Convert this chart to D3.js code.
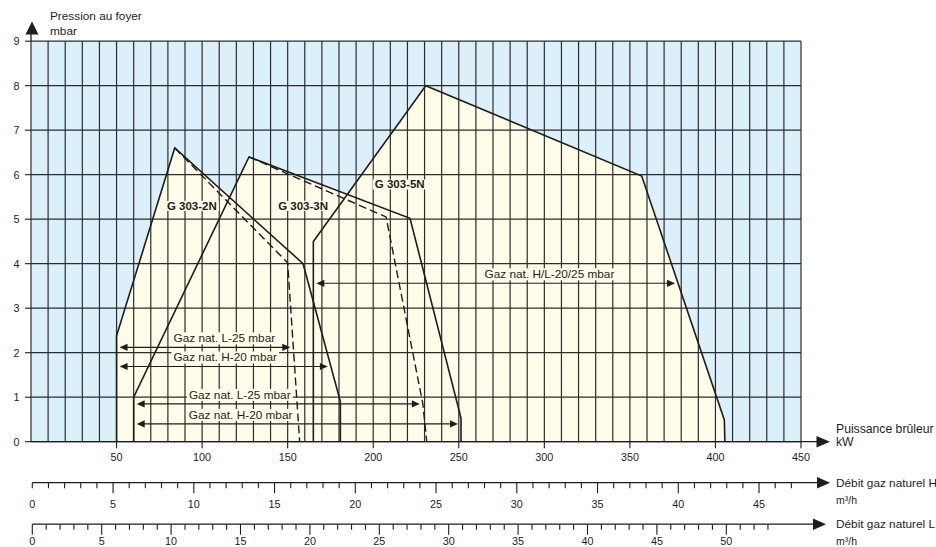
<!DOCTYPE html>
<html><head><meta charset="utf-8">
<script src="https://cdn.jsdelivr.net/npm/d3@7/dist/d3.min.js"></script>
<style>
html,body{margin:0;padding:0;background:#fff;}
svg{display:block;font-family:"Liberation Sans",Arial,Helvetica,sans-serif;}
</style></head>
<body>
<svg id="chart" width="936" height="547"></svg>
<script>
// ---------- data ----------
const kwTicks = [50,100,150,200,250,300,350,400,450];
const mbarTicks = [0,1,2,3,4,5,6,7,8,9];
const flowHTicks = [0,5,10,15,20,25,30,35,40,45];
const flowLTicks = [0,5,10,15,20,25,30,35,40,45,50];

// burner working fields: [kW, mbar]
const g2N_solid  = [[50,0],[50,2.38],[84,6.6],[159,4.0],[180.8,0.9],[180.8,0]];
const g2N_dashed = [[84,6.6],[150,4.02],[157,0]];
const g3N_solid  = [[60,0],[60,1.0],[127.4,6.4],[221.5,5.02],[251.3,0.53],[251.3,0]];
const g3N_dashed = [[127.4,6.4],[207.5,5.05],[229,0.85],[231.3,0]];
const g5N_solid  = [[165,0],[165,4.5],[230.7,8.0],[356.9,5.97],[405.2,0.49],[405.5,0]];

const modelNames = ["G 303-2N","G 303-3N","G 303-5N"];
const modelLabelKw = [94,159,215.5];
const modelLabelMbar = [5.3,5.3,5.78];

// gas-range annotations
const gasLabels   = ["Gaz nat. L-25 mbar","Gaz nat. H-20 mbar","Gaz nat. L-25 mbar","Gaz nat. H-20 mbar","Gaz nat. H/L-20/25 mbar"];
const gasMbar     = [2.12,1.69,0.85,0.40,3.56];
const gasFrom     = ["2N","2N","3N","3N","5N"];
const gasTo       = ["2N_d","2N_s","3N_d","3N_s","5N_s"];
const gasLabelKw  = [113,113.5,122,122.5,303];

// ---------- scales ----------
const svg = d3.select("#chart");
const x = d3.scaleLinear().domain([0,450]).range([31,801]);
const y = d3.scaleLinear().domain([0,9]).range([441.7,41.2]);
const xH = d3.scaleLinear().domain([0,47]).range([32.3,32.3+47*16.15]);
const xL = d3.scaleLinear().domain([0,53]).range([32.3,32.3+53*13.88]);

const INK = "#1e1c1d";
const BLUE = "#dbf0fb";
const BEIGE = "#fffde9";

const lines = {
  "2N_s": g2N_solid, "2N_d": g2N_dashed,
  "3N_s": g3N_solid, "3N_d": g3N_dashed,
  "5N_s": g5N_solid
};
const leftEdge = {"2N": g2N_solid[0][0], "3N": g3N_solid[0][0], "5N": g5N_solid[0][0]};

// kW on the descending (right) side of a line at given mbar
function kwAt(pts, m){
  let peak = 0;
  pts.forEach((p,i)=>{ if(p[1] > pts[peak][1]) peak = i; });
  for(let i=peak;i<pts.length-1;i++){
    const a=pts[i], b=pts[i+1];
    if((a[1]-m)*(b[1]-m) <= 0 && a[1]!==b[1]){
      return a[0] + (b[0]-a[0])*(a[1]-m)/(a[1]-b[1]);
    }
  }
  return pts[pts.length-1][0];
}

const line = d3.line().x(d=>x(d[0])).y(d=>y(d[1]));

// ---------- background ----------
svg.append("rect").attr("x",x(0)).attr("y",y(9))
  .attr("width",x(450)-x(0)).attr("height",y(0)-y(9)).attr("fill",BLUE);

// fields fill
[g2N_solid,g3N_solid,g5N_solid].forEach(p=>{
  svg.append("path").attr("d",line(p)+"Z").attr("fill",BEIGE).attr("stroke","none");
});

// ---------- grid ----------
const grid = svg.append("g").attr("stroke","#2c2c2c").attr("stroke-width",1.2);
d3.range(0,451,10).forEach(v=>{
  grid.append("line").attr("x1",x(v)).attr("x2",x(v)).attr("y1",y(0)).attr("y2",y(9));
});
d3.range(0,10,1).forEach(v=>{
  grid.append("line").attr("x1",x(0)).attr("x2",x(450)).attr("y1",y(v)).attr("y2",y(v));
});

// ---------- text backgrounds & gas labels ----------
const annG = svg.append("g");
gasLabels.forEach((t,i)=>{
  const ay = y(gasMbar[i]);
  const tx = x(gasLabelKw[i]);
  const g = annG.append("g");
  const txt = g.append("text").attr("x",tx).attr("y",ay-9).attr("text-anchor","middle")
    .attr("dominant-baseline","central").attr("font-size","11.8px").attr("fill",INK).text(t);
  const bb = txt.node().getBBox();
  g.insert("rect","text").attr("x",bb.x-2).attr("y",bb.y+1).attr("width",bb.width+4)
    .attr("height",bb.height-2).attr("fill",BEIGE);
});

// ---------- field outlines ----------
const outl = svg.append("g").attr("fill","none").attr("stroke",INK).attr("stroke-linejoin","miter");
[g2N_solid,g3N_solid,g5N_solid].forEach(p=>{
  outl.append("path").attr("d",line(p)).attr("stroke-width",1.6);
});
[g2N_dashed,g3N_dashed].forEach(p=>{
  outl.append("path").attr("d",line(p)).attr("stroke-width",1.4).attr("stroke-dasharray","8,4");
});

// ---------- model names ----------
modelNames.forEach((n,i)=>{
  const g = svg.append("g");
  const t = g.append("text").attr("x",x(modelLabelKw[i])).attr("y",y(modelLabelMbar[i]))
    .attr("text-anchor","middle").attr("dominant-baseline","central")
    .attr("font-size","11.5px").attr("font-weight","bold").attr("fill",INK).text(n);
  const bb = t.node().getBBox();
  g.insert("rect","text").attr("x",bb.x-2).attr("y",bb.y+1).attr("width",bb.width+4)
    .attr("height",bb.height-2).attr("fill",BEIGE);
});

// ---------- double arrows ----------
function head(g, tx, ty, dir){ // dir: -1 points left, +1 points right
  const L=8, W=3.6;
  g.append("path").attr("d",`M${tx},${ty}L${tx-dir*L},${ty-W}L${tx-dir*L},${ty+W}Z`).attr("fill",INK);
}
gasLabels.forEach((t,i)=>{
  const ay = y(gasMbar[i]);
  const x1 = x(leftEdge[gasFrom[i]]) + 3;
  const x2 = x(kwAt(lines[gasTo[i]], gasMbar[i])) - 3;
  const g = svg.append("g");
  g.append("line").attr("x1",x1+4).attr("x2",x2-4).attr("y1",ay).attr("y2",ay)
    .attr("stroke",INK).attr("stroke-width",1.1);
  head(g,x1,ay,-1); head(g,x2,ay,1);
});

// ---------- Y axis ----------
const ya = svg.append("g");
ya.append("line").attr("x1",x(0)).attr("x2",x(0)).attr("y1",y(9)).attr("y2",34)
  .attr("stroke",INK).attr("stroke-width",1.3);
ya.append("path").attr("d",`M${x(0)+1},21.5L${x(0)+7.5},34.5L${x(0)-5.5},34.5Z`).attr("fill",INK);
mbarTicks.forEach(v=>{
  ya.append("line").attr("x1",25).attr("x2",x(0)).attr("y1",y(v)).attr("y2",y(v))
    .attr("stroke",INK).attr("stroke-width",1.1);
  ya.append("text").attr("x",19.5).attr("y",y(v)).attr("text-anchor","end")
    .attr("dominant-baseline","central").attr("font-size","10.8px").attr("fill",INK).text(v);
});
ya.append("text").attr("x",50).attr("y",16).attr("font-size","11.8px").attr("dominant-baseline","central").attr("fill",INK).text("Pression au foyer");
ya.append("text").attr("x",50).attr("y",31).attr("font-size","11.8px").attr("dominant-baseline","central").attr("fill",INK).text("mbar");

// ---------- X axis (kW) ----------
const xa = svg.append("g");
xa.append("line").attr("x1",x(0)).attr("x2",818).attr("y1",y(0)).attr("y2",y(0))
  .attr("stroke",INK).attr("stroke-width",1.3);
xa.append("path").attr("d",`M830,${y(0)}L816.5,${y(0)-5.8}L816.5,${y(0)+5.8}Z`).attr("fill",INK);
kwTicks.forEach(v=>{
  xa.append("line").attr("x1",x(v)).attr("x2",x(v)).attr("y1",y(0)).attr("y2",y(0)+6.5)
    .attr("stroke",INK).attr("stroke-width",1.1);
  xa.append("text").attr("x",x(v)).attr("y",457).attr("text-anchor","middle")
    .attr("dominant-baseline","central").attr("font-size","10.8px").attr("fill",INK).text(v);
});
xa.append("text").attr("x",836).attr("y",429).attr("font-size","12.2px").attr("dominant-baseline","central").attr("fill",INK).text("Puissance brûleur");
xa.append("text").attr("x",836).attr("y",442).attr("font-size","12.2px").attr("dominant-baseline","central").attr("fill",INK).text("kW");

// ---------- flow axes ----------
function flowAxis(scale, ay, maxMinor, majors, tipX, labelY, title, unitY, zeroLong){
  const g = svg.append("g");
  g.append("line").attr("x1",scale(0)).attr("x2",tipX-12).attr("y1",ay).attr("y2",ay)
    .attr("stroke",INK).attr("stroke-width",1.3);
  g.append("path").attr("d",`M${tipX},${ay}L${tipX-13},${ay-5.8}L${tipX-13},${ay+5.8}Z`).attr("fill",INK);
  d3.range(0,maxMinor+1).forEach(v=>{
    const major = v%5===0 && (v>0 || zeroLong);
    g.append("line").attr("x1",scale(v)).attr("x2",scale(v)).attr("y1",ay).attr("y2",ay+(major?10.5:5.5))
      .attr("stroke",INK).attr("stroke-width",1.1);
  });
  majors.forEach(v=>{
    g.append("text").attr("x",scale(v)).attr("y",labelY).attr("text-anchor","middle")
      .attr("dominant-baseline","central").attr("font-size","10.8px").attr("fill",INK).text(v);
  });
  g.append("text").attr("x",836).attr("y",ay).attr("font-size","11.8px").attr("dominant-baseline","central").attr("fill",INK).text(title);
  g.append("text").attr("x",836).attr("y",unitY).attr("font-size","10.5px").attr("dominant-baseline","central").attr("fill",INK).text("m³/h");
}
flowAxis(xH, 482.7, 47, flowHTicks, 830, 504, "Débit gaz naturel H", 500, false);
flowAxis(xL, 524.2, 53, flowLTicks, 826, 540.5, "Débit gaz naturel L", 540.5, true);
</script>
</body></html>
